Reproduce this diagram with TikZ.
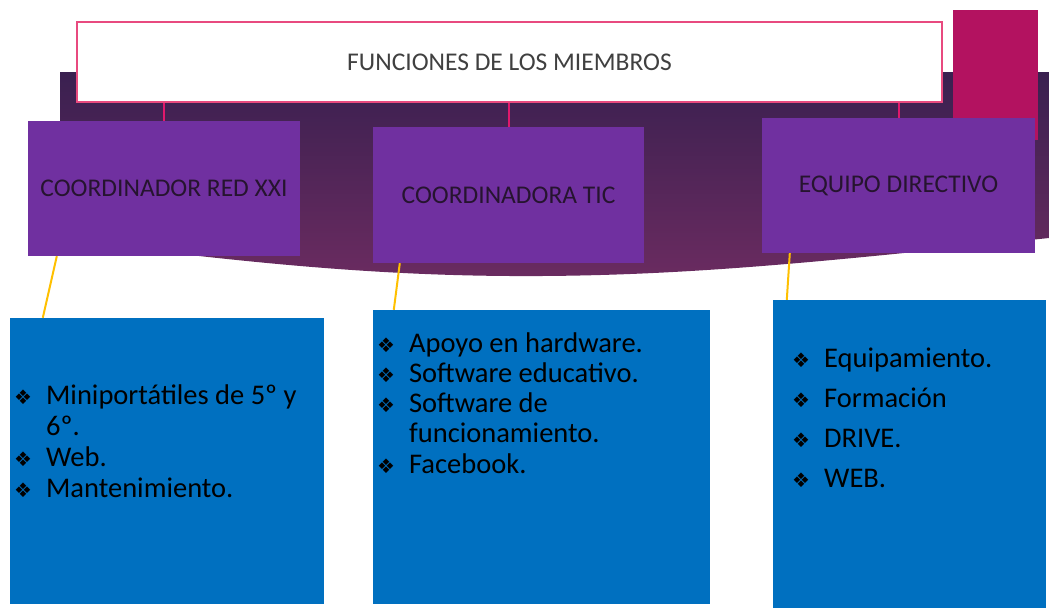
\documentclass[tikz,border=0pt]{standalone}
\usepackage{fontspec}
\setmainfont{Carlito}
\newfontfamily\dejavu{DejaVu Sans}
\definecolor{fondoA}{HTML}{3A2050}
\definecolor{fondoB}{HTML}{6A2B60}
\definecolor{magenta}{HTML}{B31260}
\definecolor{rosa}{HTML}{E84A7F}
\definecolor{rosaline}{HTML}{E0186C}
\definecolor{morado}{HTML}{7030A0}
\definecolor{azul}{HTML}{0070C0}
\definecolor{amarillo}{HTML}{FFC000}
\definecolor{tinta}{HTML}{26142F}
\newcommand{\vineta}{{\dejavu\fontsize{20}{20}\selectfont ❖}}

\begin{document}
\begin{tikzpicture}[x=1pt,y=1pt]
			\tikzstyle{every node}+=[inner sep=0pt]
			\tikzstyle{cargo}=[rectangle, fill=morado, text=tinta, font=\fontsize{25.5}{30}\selectfont]
			\tikzstyle{tareas}=[rectangle, fill=azul]
			\tikzstyle{lista}=[anchor=base west, text=black, font=\fontsize{28.5}{31}\selectfont]
			\tikzstyle{rama}=[rosaline, line width=2pt]
			\tikzstyle{enlace}=[amarillo, line width=2pt]
			\useasboundingbox (0,0) rectangle (1049,-608);
			% fondo
			\shade [top color=fondoA, bottom color=fondoB] (60,-72) -- (1049,-72) -- (1049,-238) .. controls (820,-262) and (680,-277) .. (510,-276) .. controls (340,-275) and (200,-256) .. (60,-240) -- cycle;
			\fill [magenta] (953,-10) rectangle (1038,-140);
			% titulo
			\node [draw=rosa, line width=2pt, fill=white, text=black!75, minimum width=865pt, minimum height=80pt, font=\fontsize{25.5}{30}\selectfont] (funciones) at (509.5,-62) {FUNCIONES DE LOS MIEMBROS};
			% cargos
			\node [cargo, minimum width=272pt, minimum height=135pt] (redxxi) at (164,-188.5) {COORDINADOR RED XXI};
			\node [cargo, minimum width=271pt, minimum height=136pt] (tic) at (508.5,-195) {COORDINADORA TIC};
			\node [cargo, minimum width=273pt, minimum height=135pt] (directivo) at (898.5,-185.5) {EQUIPO DIRECTIVO};
			\draw [rama] (redxxi.north |- funciones.south) -- (redxxi.north);
			\draw [rama] (tic.north |- funciones.south) -- (tic.north);
			\draw [rama] (directivo.north |- funciones.south) -- (directivo.north);
			% tareas
			\node [tareas, minimum width=314pt, minimum height=286pt] (tareasred) at (167,-461) {};
			\node [tareas, minimum width=337pt, minimum height=294pt] (tareastic) at (541.5,-457) {};
			\node [tareas, minimum width=273pt, minimum height=308pt] (tareasdir) at (909.5,-454) {};
			\draw [enlace] ([xshift=29pt]redxxi.south west) -- ([xshift=33pt]tareasred.north west);
			\draw [enlace] ([xshift=27pt]tic.south west) -- ([xshift=21pt]tareastic.north west);
			\draw [enlace] ([xshift=28pt]directivo.south west) -- ([xshift=14pt]tareasdir.north west);
			\node [lista] (listared) at (14,-404) {\begin{tabular}[t]{@{}l@{\hspace{14pt}}l@{}}
				\vineta & Miniportátiles de 5º y\\
				 & 6º.\\
				\vineta & Web.\\
				\vineta & Mantenimiento.
			\end{tabular}};
			\node [lista, font=\fontsize{28.5}{30.3}\selectfont] (listatic) at (377,-352) {\begin{tabular}[t]{@{}l@{\hspace{14pt}}l@{}}
				\vineta & Apoyo en hardware.\\
				\vineta & Software educativo.\\
				\vineta & Software de\\
				 & funcionamiento.\\
				\vineta & Facebook.
			\end{tabular}};
			\node [lista, font=\fontsize{28.5}{40}\selectfont] (listadir) at (792,-367) {\begin{tabular}[t]{@{}l@{\hspace{14pt}}l@{}}
				\vineta & Equipamiento.\\
				\vineta & Formación\\
				\vineta & DRIVE.\\
				\vineta & WEB.
			\end{tabular}};
		\end{tikzpicture}
\end{document}
